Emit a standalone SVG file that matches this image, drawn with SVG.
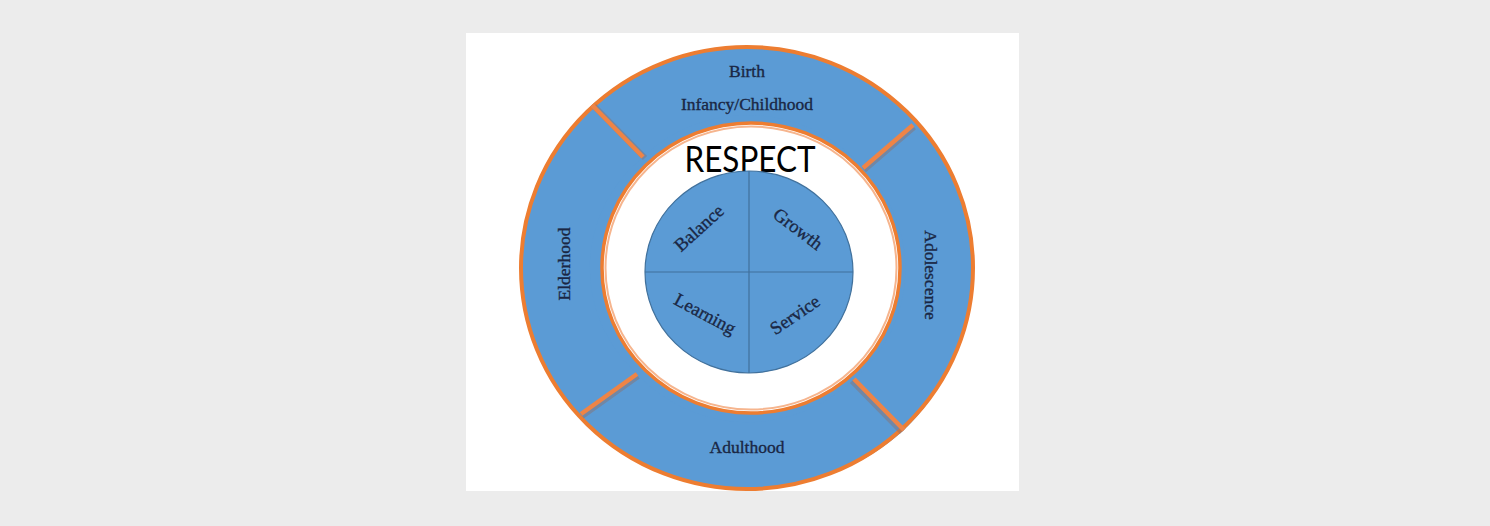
<svg xmlns="http://www.w3.org/2000/svg" width="1490" height="526" viewBox="0 0 1490 526">
<style>
.seg{fill:#5b9bd5;stroke:none}
.ring{font-family:"Liberation Serif","Times New Roman",serif;font-size:17.5px;fill:#1a2744;stroke:#1a2744;stroke-width:0.35;text-anchor:middle}
.quad{font-family:"Liberation Serif","Times New Roman",serif;font-size:18.5px;fill:#1a2744;stroke:#1a2744;stroke-width:0.35;text-anchor:middle}
.div{stroke:#ee8446;stroke-width:4.5;stroke-linecap:butt}
.divs{stroke:#8c6f6a;stroke-opacity:0.45;stroke-width:6;stroke-linecap:butt}
.cross{stroke:#41719c;stroke-width:1.2;fill:none}
</style>
<rect x="0" y="0" width="1490" height="526" fill="#ececec"/>
<rect x="466" y="33" width="553" height="458" fill="#ffffff"/>

<g id="ring-background">
<path d="M521,268 a226,221 0 1,0 452,0 a226,221 0 1,0 -452,0 Z M602,268 a149,145 0 1,1 298,0 a149,145 0 1,1 -298,0 Z" fill="#5b9bd5" fill-rule="evenodd"/>
</g>

<g id="node-birth-infancy">
<path class="seg" d="M592,105 A226,221 0 0,1 913,125 L863,168 A149,145 0 0,0 643,157 Z"/>
<text class="ring" x="747" y="77">Birth</text>
<text class="ring" x="747" y="110">Infancy/Childhood</text>
</g>

<g id="node-adolescence">
<path class="seg" d="M913,125 A226,221 0 0,1 904,430 L854,379 A149,145 0 0,0 863,168 Z"/>
<text class="ring" transform="translate(931,275) rotate(90)" x="0" y="6">Adolescence</text>
</g>

<g id="node-adulthood">
<path class="seg" d="M904,430 A226,221 0 0,1 581,414 L637,374 A149,145 0 0,0 854,379 Z"/>
<text class="ring" x="747" y="453">Adulthood</text>
</g>

<g id="node-elderhood">
<path class="seg" d="M581,414 A226,221 0 0,1 592,105 L643,157 A149,145 0 0,0 637,374 Z"/>
<text class="ring" transform="translate(564,264) rotate(-90)" x="0" y="6">Elderhood</text>
</g>

<g id="ring-edges">
<ellipse cx="747" cy="268" rx="226" ry="221" fill="none" stroke="#ed7d31" stroke-width="4"/>
<ellipse cx="751" cy="268" rx="149" ry="145" fill="none" stroke="#ed7d31" stroke-width="3.5"/>
<ellipse cx="751" cy="268" rx="145.5" ry="141.5" fill="none" stroke="#f6b58e" stroke-width="2"/>
</g>

<g id="separators">
<line class="divs" x1="594" y1="106" x2="645" y2="158"/>
<line class="div" x1="592" y1="105" x2="643" y2="157"/>
<line class="divs" x1="914" y1="127" x2="864" y2="170"/>
<line class="div" x1="913" y1="125" x2="863" y2="168"/>
<line class="divs" x1="638" y1="376" x2="582" y2="416"/>
<line class="div" x1="637" y1="374" x2="581" y2="414"/>
<line class="divs" x1="852" y1="381" x2="902" y2="432"/>
<line class="div" x1="854" y1="379" x2="904" y2="430"/>
</g>

<g id="node-respect">
<text x="750" y="172" font-family="Lato,'Liberation Sans',Arial,sans-serif" font-size="37" fill="#000000" text-anchor="middle" textLength="131" lengthAdjust="spacingAndGlyphs">RESPECT</text>
</g>

<g id="inner-circle">
<ellipse cx="749" cy="272" rx="104" ry="101" fill="#5b9bd5" stroke="#41719c" stroke-width="1.2"/>
<line class="cross" x1="749" y1="171" x2="749" y2="373"/>
<line class="cross" x1="645" y1="272" x2="853" y2="272"/>
</g>

<g id="node-balance">
<text class="quad" transform="translate(699,228) rotate(-42)" x="0" y="6">Balance</text>
</g>
<g id="node-growth">
<text class="quad" transform="translate(798,229) rotate(37)" x="0" y="6">Growth</text>
</g>
<g id="node-learning">
<text class="quad" transform="translate(705,314) rotate(28)" x="0" y="6">Learning</text>
</g>
<g id="node-service">
<text class="quad" transform="translate(795,315) rotate(-34)" x="0" y="6">Service</text>
</g>
</svg>
